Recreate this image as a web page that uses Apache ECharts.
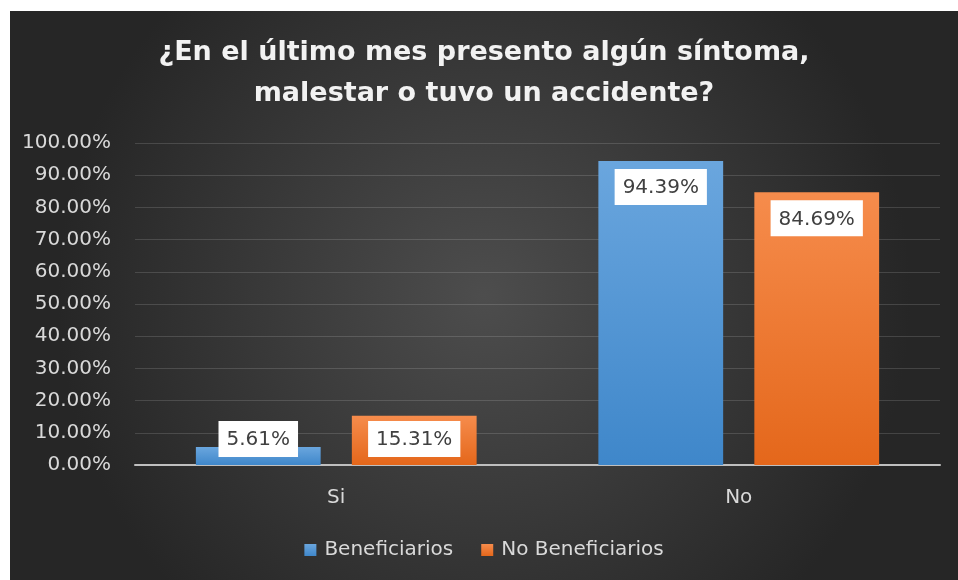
<!DOCTYPE html>
<html>
<head>
<meta charset="utf-8">
<script src="https://cdn.jsdelivr.net/npm/echarts@6/dist/echarts.min.js"></script>
<style>
  html, body { margin: 0; padding: 0; background: #ffffff; }
  #main { position: absolute; left: 10px; top: 11px; width: 948px; height: 569px; }
</style>
</head>
<body>
<div id="main"></div>
<script>
// datos del gráfico
const categories = ["Si", "No"];
const beneficiarios = [5.61, 94.39];
const noBeneficiarios = [15.31, 84.69];
const seriesNames = ["Beneficiarios", "No Beneficiarios"];
const yTicks = { min: 0, max: 100, interval: 10 };

const chart = echarts.init(document.getElementById("main"));

const fmt = v => Number(v).toFixed(2) + "%";

// etiqueta blanca; las barras pequeñas la llevan abajo
const makeData = (arr) => arr.map(v => ({
  value: v,
  label: { position: v < 20 ? "insideBottom" : "insideTop" }
}));

const labelStyle = {
  show: true,
  distance: 8,
  formatter: p => fmt(p.value),
  backgroundColor: "#ffffff",
  color: "#404040",
  fontFamily: "DejaVu Sans",
  fontSize: 20,
  padding: [9, 8, 7, 8]
};

const option = {
  backgroundColor: {
    type: "radial", x: 0.5, y: 0.5, r: 0.75,
    colorStops: [
      { offset: 0, color: "#4d4d4d" },
      { offset: 1, color: "#262626" }
    ]
  },
  title: {
    text: "¿En el último mes presento algún síntoma,\nmalestar o tuvo un accidente?",
    left: "center",
    top: 16,
    textStyle: {
      color: "#f2f2f2",
      fontFamily: "DejaVu Sans",
      fontWeight: "bold",
      fontSize: 27,
      lineHeight: 41
    }
  },
  legend: {
    bottom: 15,
    left: "center",
    itemWidth: 12,
    itemHeight: 12,
    itemGap: 28,
    icon: "rect",
    textStyle: { color: "#d9d9d9", fontFamily: "DejaVu Sans", fontSize: 20, padding: [0, 0, 0, 3] },
    data: seriesNames
  },
  grid: { left: 125, right: 18, top: 132, bottom: 115, containLabel: false },
  xAxis: {
    type: "category",
    data: categories,
    axisLine: { lineStyle: { color: "#bfbfbf", width: 2 } },
    axisTick: { show: false },
    axisLabel: { color: "#d9d9d9", fontFamily: "DejaVu Sans", fontSize: 20, margin: 23 }
  },
  yAxis: {
    type: "value",
    min: yTicks.min,
    max: yTicks.max,
    interval: yTicks.interval,
    axisLabel: {
      color: "#d9d9d9", fontFamily: "DejaVu Sans", fontSize: 20, margin: 24,
      formatter: v => fmt(v)
    },
    splitLine: { lineStyle: { color: "rgba(255,255,255,0.14)", width: 1 } },
    axisLine: { show: false },
    axisTick: { show: false }
  },
  series: [
    {
      name: seriesNames[0],
      type: "bar",
      data: makeData(beneficiarios),
      barWidth: "31%",
      barGap: "25%",
      itemStyle: {
        color: {
          type: "linear", x: 0, y: 0, x2: 0, y2: 1,
          colorStops: [
            { offset: 0, color: "#6aa6de" },
            { offset: 1, color: "#3f87ca" }
          ]
        }
      },
      label: labelStyle
    },
    {
      name: seriesNames[1],
      type: "bar",
      data: makeData(noBeneficiarios),
      barWidth: "31%",
      itemStyle: {
        color: {
          type: "linear", x: 0, y: 0, x2: 0, y2: 1,
          colorStops: [
            { offset: 0, color: "#f68c4c" },
            { offset: 1, color: "#e4671b" }
          ]
        }
      },
      label: labelStyle
    }
  ]
};

chart.setOption(option);
</script>
</body>
</html>
